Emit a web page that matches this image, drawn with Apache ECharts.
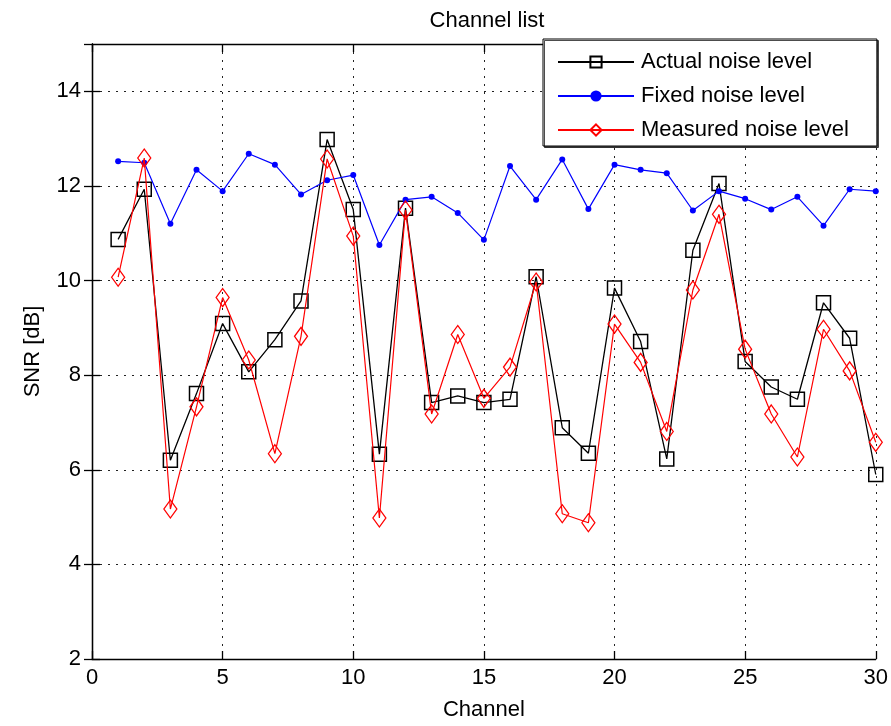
<!DOCTYPE html>
<html>
<head>
<meta charset="utf-8">
<script src="https://cdn.jsdelivr.net/npm/echarts@6/dist/echarts.min.js"></script>
<style>
  html, body { margin: 0; padding: 0; background: #fff; }
  #chart { width: 891px; height: 726px; }
</style>
</head>
<body>
<div id="chart"></div>
<script>
// Channel numbers and SNR values (dB) per noise-level estimate
const channels = [1, 2, 3, 4, 5, 6, 7, 8, 9, 10, 11, 12, 13, 14, 15,
                  16, 17, 18, 19, 20, 21, 22, 23, 24, 25, 26, 27, 28, 29, 30];
const actualNoise = [10.87, 11.93, 6.20, 7.61, 9.09, 8.07, 8.75, 9.57, 12.98, 11.50,
                     6.33, 11.53, 7.42, 7.56, 7.42, 7.49, 10.08, 6.89, 6.35, 9.84,
                     8.71, 6.23, 10.64, 12.05, 8.29, 7.75, 7.49, 9.53, 8.78, 5.90];
const fixedNoise = [12.52, 12.49, 11.20, 12.34, 11.89, 12.68, 12.45, 11.82, 12.12, 12.23,
                    10.75, 11.71, 11.77, 11.43, 10.86, 12.42, 11.71, 12.56, 11.51, 12.45,
                    12.34, 12.27, 11.48, 11.89, 11.73, 11.50, 11.77, 11.16, 11.93, 11.89];
const measuredNoise = [10.07, 12.59, 5.17, 7.33, 9.64, 8.32, 6.34, 8.82, 12.57, 10.94,
                       4.98, 11.49, 7.18, 8.86, 7.51, 8.17, 9.97, 5.07, 4.88, 9.08,
                       8.27, 6.81, 9.80, 11.40, 8.55, 7.18, 6.27, 8.97, 8.09, 6.58];
const seriesNames = ['Actual noise level', 'Fixed noise level', 'Measured noise level'];

const FONT = "'Liberation Sans', Arial, Helvetica, sans-serif";
const pairs = vals => channels.map((c, i) => [c, vals[i]]);

const gridDots = { show: true, lineStyle: { color: '#222', width: 1, type: [2, 6] } };
const boxLine = { show: true, lineStyle: { color: '#000', width: 1.3 } };
const inTicks = { show: true, inside: true, length: 8, lineStyle: { color: '#000', width: 1.3 } };
const tickText = { color: '#000', fontSize: 22, fontFamily: FONT };

const chart = echarts.init(document.getElementById('chart'), null, { renderer: 'canvas' });
chart.setOption({
  backgroundColor: '#fff',
  animation: false,
  title: {
    text: 'Channel list',
    left: 482,
    textAlign: 'center',
    top: 5,
    textStyle: { color: '#000', fontSize: 22, fontWeight: 'normal', fontFamily: FONT }
  },
  grid: { left: 92, right: 11, top: 44, bottom: 62, containLabel: false },
  legend: {
    orient: 'vertical',
    left: 543,
    top: 39,
    data: seriesNames,
    backgroundColor: '#fff',
    borderColor: '#000',
    borderWidth: 1,
    shadowColor: 'rgba(0,0,0,0.7)',
    shadowOffsetX: 1.5,
    shadowOffsetY: 1.5,
    shadowBlur: 0,
    padding: [12, 28, 5, 14],
    itemWidth: 76,
    itemHeight: 14,
    itemGap: 12,
    textStyle: { color: '#000', fontSize: 22, fontFamily: FONT, padding: [0, 0, 0, 2] },
    selectedMode: false
  },
  xAxis: [
    {
      type: 'value', min: 0, max: 30, interval: 5,
      name: 'Channel', nameLocation: 'middle', nameGap: 40,
      nameTextStyle: tickText,
      axisLine: boxLine, axisTick: inTicks,
      axisLabel: Object.assign({ margin: 8 }, tickText),
      splitLine: gridDots
    },
    {
      type: 'value', min: 0, max: 30, interval: 5, position: 'top',
      axisLine: boxLine, axisTick: inTicks, axisLabel: { show: false }, splitLine: { show: false }
    }
  ],
  yAxis: [
    {
      type: 'value', min: 2, max: 15, interval: 2,
      name: 'SNR [dB]', nameLocation: 'middle', nameGap: 48, nameRotate: 90,
      nameTextStyle: tickText,
      axisLine: boxLine, axisTick: inTicks,
      axisLabel: Object.assign({ margin: 11, showMaxLabel: false }, tickText),
      splitLine: gridDots
    },
    {
      type: 'value', min: 2, max: 15, interval: 2, position: 'right',
      axisLine: boxLine, axisTick: inTicks, axisLabel: { show: false }, splitLine: { show: false }
    }
  ],
  series: [
    {
      name: seriesNames[0], type: 'line', data: pairs(actualNoise),
      symbol: 'rect', symbolSize: 14,
      itemStyle: { color: 'none', borderColor: '#000', borderWidth: 1.5 },
      lineStyle: { color: '#000', width: 1.3 },
      z: 3
    },
    {
      name: seriesNames[1], type: 'line', data: pairs(fixedNoise),
      symbol: 'circle', symbolSize: 6,
      itemStyle: { color: '#0000ff', borderWidth: 0 },
      lineStyle: { color: '#0000ff', width: 1.2 },
      z: 4
    },
    {
      name: seriesNames[2], type: 'line', data: pairs(measuredNoise),
      symbol: 'diamond', symbolSize: [13, 18],
      itemStyle: { color: 'none', borderColor: '#ff0000', borderWidth: 1.3 },
      lineStyle: { color: '#ff0000', width: 1.2 },
      z: 5
    }
  ]
});
</script>
</body>
</html>
